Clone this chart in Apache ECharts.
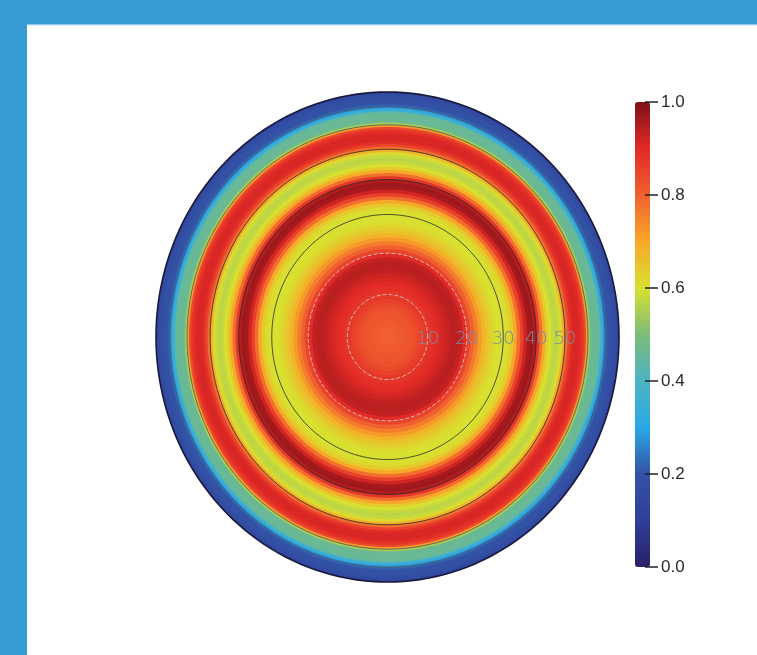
<!DOCTYPE html>
<html>
<head>
<meta charset="utf-8">
<script src="https://cdn.jsdelivr.net/npm/echarts@6/dist/echarts.min.js"></script>
<style>html,body{margin:0;padding:0;background:#fff}#c{width:757px;height:655px}</style>
</head>
<body>
<div id="c"></div>
<script>
// Radial profile: ring outer edge (zenith angle, degrees) and value of the ring ending there
const ringOuterDeg = [1,2,3,4,5,6,7,8,9,10,11,12,13,14,15,16,17,18,19,20,21,22,23,24,25,26,27,28,29,30,
  31,32,33,34,35,36,37,38,39,40,41,42,43,44,45,46,47,48,49,50,51,52,53,54,55,56,57,58,59,60,
  61,62,63,64,65,66,67,68,69,70,71,72,73,74,75,76,77,78,79,80,81,82,83,84,85,86,87,88,89,90];
const ringValues = [0.80,0.80,0.81,0.81,0.82,0.82,0.83,0.84,0.86,0.87,
  0.88,0.89,0.90,0.91,0.92,0.93,0.94,0.94,0.93,0.90,
  0.85,0.80,0.76,0.72,0.68,0.65,0.63,0.61,0.60,0.60,
  0.60,0.61,0.64,0.70,0.78,0.86,0.92,0.96,0.97,0.95,
  0.88,0.78,0.70,0.64,0.60,0.58,0.57,0.58,0.61,0.68,
  0.78,0.85,0.89,0.91,0.91,0.91,0.90,0.88,0.84,0.72,
  0.55,0.47,0.46,0.46,0.46,0.46,0.44,0.36,0.32,0.27,
  0.23,0.21,0.20,0.20,0.20,0.20,0.19,0.19,0.18,0.18,
  0.17,0.17,0.16,0.15,0.14,0.13,0.12,0.11,0.10,0.10];
const gridCircleDeg = [10,20,30,40,50,60,70];
const ringLabelDeg = [10,20,30,40,50];
const ringLabels = ['10','20','30','40','50'];

const jet = ['#28206a','#2f3f98','#3352a6','#2aa8e6','#4cb4c4','#7cbc78','#d8e030','#f8a828','#f06030','#e22a26','#7e1018'];
const D2R = Math.PI/180;

function ellipsePoints(api, r){
  const pts=[];
  for(let a=0;a<360;a+=2){
    pts.push(api.coord([r*Math.cos(a*D2R), r*Math.sin(a*D2R)]));
  }
  return pts;
}

// draw outermost disk first so inner disks lie on top
const ringData = [];
for(let i=ringOuterDeg.length-1;i>=0;i--){
  ringData.push([ringOuterDeg[i]-1, ringOuterDeg[i], ringValues[i]]);
}
const circleData = gridCircleDeg.map(d=>[d]);
const labelData = ringLabelDeg.map((d,i)=>[d, i]);

const chart = echarts.init(document.getElementById('c'), null, {renderer:'canvas'});
chart.setOption({
  animation:false,
  backgroundColor:'#ffffff',
  graphic:[
    {type:'rect', shape:{x:0,y:0,width:757,height:24}, style:{fill:'#379bd4'}, z:100},
    {type:'rect', shape:{x:27,y:24,width:730,height:1.2}, style:{fill:'#8fc6ea'}, z:100},
    {type:'rect', shape:{x:0,y:0,width:27,height:655}, style:{fill:'#379bd4'}, z:100}
  ],
  grid:[
    {left:156, width:463, top:92, height:490},
    {left:645, width:10, top:102, height:465}
  ],
  xAxis:[
    {gridIndex:0, type:'value', min:-1, max:1, show:false},
    {gridIndex:1, type:'value', min:0, max:1, show:false}
  ],
  yAxis:[
    {gridIndex:0, type:'value', min:-1, max:1, show:false},
    {gridIndex:1, type:'value', min:0, max:1, interval:0.2, position:'left', z:10,
     axisLine:{show:false}, splitLine:{show:false},
     axisTick:{show:true, inside:true, length:13, lineStyle:{color:'#222', width:1.5}},
     axisLabel:{inside:true, margin:16, color:'#2a2a2a', fontSize:17, fontFamily:'Liberation Sans, Arial, sans-serif',
       formatter:v=>v.toFixed(1)}}
  ],
  visualMap:{
    type:'continuous', min:0, max:1, dimension:2, seriesIndex:0,
    calculable:false, show:true, left:635, top:102, itemWidth:15, itemHeight:465,
    padding:0, text:null, inRange:{color:jet}, hoverLink:false
  },
  series:[
    {
      type:'custom', xAxisIndex:0, yAxisIndex:0, data:ringData,
      renderItem:function(params, api){
        const r = Math.sin(api.value(1)*D2R);
        return {type:'polygon', shape:{points:ellipsePoints(api,r)},
          style:{fill:api.visual('color'), stroke:null}};
      }
    },
    {
      type:'custom', xAxisIndex:0, yAxisIndex:0, data:circleData, z:3,
      renderItem:function(params, api){
        const d = api.value(0);
        const r = Math.sin(d*D2R);
        const pts = ellipsePoints(api,r); pts.push(pts[0]);
        const inner = d<=20;
        return {type:'polyline', shape:{points:pts},
          style:{fill:null, stroke: inner?'#d8d0d0':(d>=60?'#4a5a60':'#2a2a2a'),
                 lineWidth:1, lineDash: inner?[4,2]:null, opacity: inner?0.85:0.8}};
      }
    },
    {
      type:'custom', xAxisIndex:0, yAxisIndex:0, data:[[90]], z:4,
      renderItem:function(params, api){
        const pts = ellipsePoints(api,1); pts.push(pts[0]);
        return {type:'polyline', shape:{points:pts},
          style:{fill:null, stroke:'#1a1a3a', lineWidth:1.6}};
      }
    },
    {
      type:'custom', xAxisIndex:0, yAxisIndex:0, data:labelData, z:5,
      renderItem:function(params, api){
        const d = api.value(0);
        const p = api.coord([Math.sin(d*D2R), -0.01]);
        return {type:'text', x:p[0], y:p[1],
          style:{text:ringLabels[params.dataIndex], fill:'#7f8aa2', fontSize:18,
            fontFamily:'DejaVu Sans, sans-serif', fontWeight:'lighter',
            align:'center', verticalAlign:'middle'}};
      }
    }
  ]
});
</script>
</body>
</html>
